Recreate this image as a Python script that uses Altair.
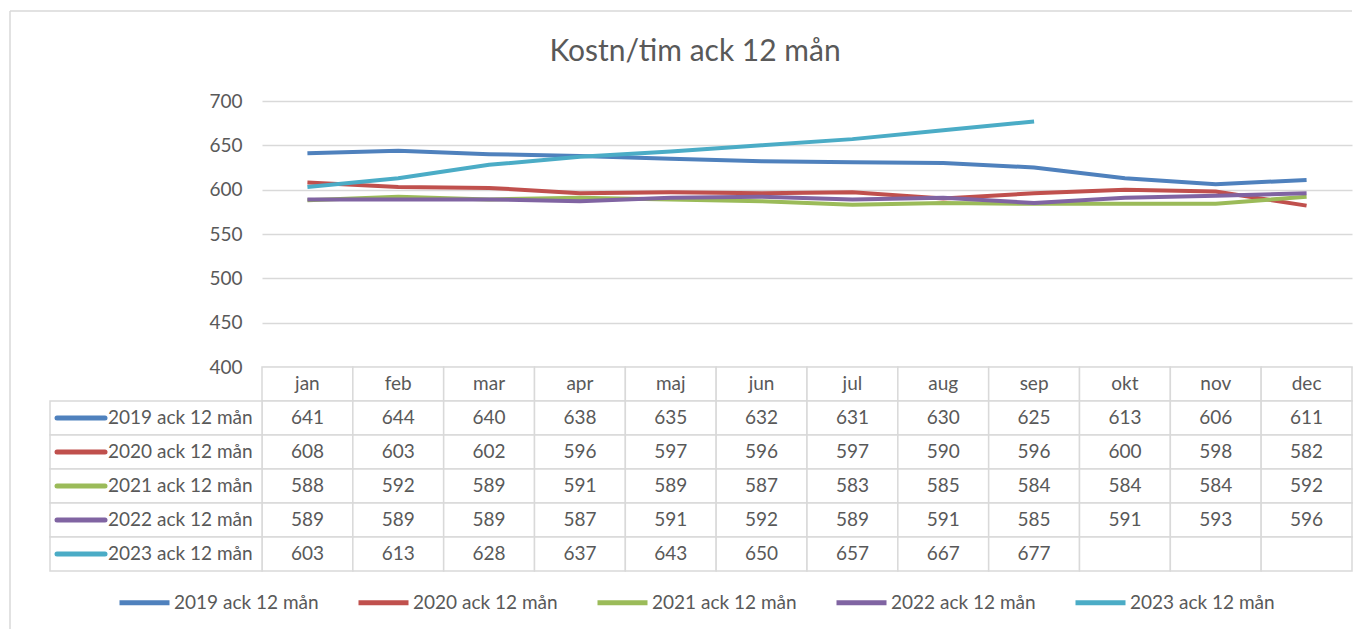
import altair as alt
import pandas as pd

months = ["jan", "feb", "mar", "apr", "maj", "jun", "jul", "aug", "sep", "okt", "nov", "dec"]
series = ["2019 ack 12 mån", "2020 ack 12 mån", "2021 ack 12 mån", "2022 ack 12 mån", "2023 ack 12 mån"]
v2019 = [641, 644, 640, 638, 635, 632, 631, 630, 625, 613, 606, 611]
v2020 = [608, 603, 602, 596, 597, 596, 597, 590, 596, 600, 598, 582]
v2021 = [588, 592, 589, 591, 589, 587, 583, 585, 584, 584, 584, 592]
v2022 = [589, 589, 589, 587, 591, 592, 589, 591, 585, 591, 593, 596]
v2023 = [603, 613, 628, 637, 643, 650, 657, 667, 677, None, None, None]
colors = ["#4F81BD", "#C0504D", "#9BBB59", "#8064A2", "#4BACC6"]
y_ticks = [400, 450, 500, 550, 600, 650, 700]

FONT = "Lato"
TXT = "#595959"
GRID = "#d9d9d9"
FS = 19

all_vals = [v2019, v2020, v2021, v2022, v2023]
rows = []
for s, vals in zip(series, all_vals):
    for m, v in zip(months, vals):
        rows.append({"series": s, "month": m, "value": v,
                     "label": "" if v is None else str(v)})
df = pd.DataFrame(rows)

hdr = pd.DataFrame({"row": ["hdr"] * 12, "month": months, "label": months})
body = df.rename(columns={"series": "row"})[["row", "month", "label"]]
cells = pd.concat([hdr, body], ignore_index=True)
labels_df = pd.DataFrame({"row": series, "series": series})

row_domain = ["hdr"] + series
color_scale = alt.Scale(domain=series, range=colors)

W = 1090

lines = alt.Chart(df).mark_line(strokeWidth=4).encode(
    x=alt.X("month:O", sort=months, scale=alt.Scale(type="point", domain=months, padding=0.5), axis=None),
    y=alt.Y("value:Q", scale=alt.Scale(domain=[400, 700]),
            axis=alt.Axis(values=y_ticks, title=None, grid=True, gridColor=GRID, gridWidth=1.5,
                          domain=False, ticks=False, labelFontSize=FS, labelColor=TXT,
                          labelFont=FONT, labelPadding=20)),
    color=alt.Color("series:N", scale=color_scale,
                    legend=alt.Legend(title=None, orient="none", legendX=-145, legendY=474,
                                      direction="horizontal",
                                      symbolType="stroke", symbolSize=2500, symbolStrokeWidth=5,
                                      labelFontSize=FS, labelFont=FONT, labelColor=TXT,
                                      labelOffset=2, columnPadding=29)),
)

frame_left = alt.Chart(pd.DataFrame({"k": [0]})).mark_rule(color=GRID, strokeWidth=1.5).encode(
    x=alt.value(-252), y=alt.value(-90), y2=alt.value(540))
frame_top = alt.Chart(pd.DataFrame({"k": [0]})).mark_rule(color=GRID, strokeWidth=1.5).encode(
    x=alt.value(-252), x2=alt.value(W), y=alt.value(-90))

top = alt.layer(frame_left, frame_top, lines).properties(width=W, height=266)

xband = alt.X("month:O", sort=months, scale=alt.Scale(type="band", domain=months, paddingInner=0, paddingOuter=0), axis=None)
yband = alt.Y("row:N", scale=alt.Scale(type="band", domain=row_domain, paddingInner=0, paddingOuter=0), axis=None)

cell_rects = alt.Chart(cells).mark_rect(fill="white", stroke=GRID, strokeWidth=1.5).encode(x=xband, y=yband)
cell_text = alt.Chart(cells).mark_text(fontSize=FS, font=FONT, color=TXT).encode(x=xband, y=yband, text="label:N")
lab_rects = alt.Chart(labels_df).mark_rect(fill="white", stroke=GRID, strokeWidth=1.5).encode(
    x=alt.value(-212), x2=alt.value(0), y=yband)
swatch = alt.Chart(labels_df).mark_rule(strokeWidth=5, strokeCap="round").encode(
    x=alt.value(-205), x2=alt.value(-157), y=yband,
    color=alt.Color("series:N", scale=color_scale, legend=None))
lab_text = alt.Chart(labels_df).mark_text(fontSize=FS, font=FONT, color=TXT, align="left").encode(
    x=alt.value(-154), y=yband, text="row:N")

table = alt.layer(cell_rects, lab_rects, cell_text, swatch, lab_text).properties(width=W, height=204)

chart = alt.vconcat(top, table, spacing=0, bounds="flush").properties(
    title=alt.TitleParams("Kostn/tim ack 12 mån", fontSize=30, font=FONT, color=TXT,
                          fontWeight="normal", anchor="middle", offset=-57, dx=14),
    padding={"left": 1, "top": 2, "right": 0, "bottom": 0},
).configure_view(stroke=None)

chart.save("out.html", embed_options={"renderer": "svg", "actions": False})
